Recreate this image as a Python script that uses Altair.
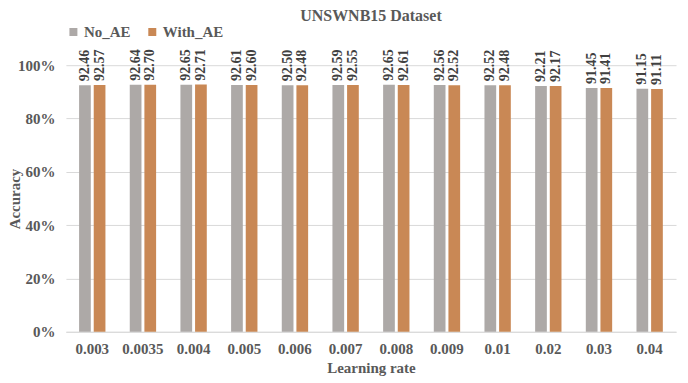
import altair as alt
import pandas as pd

rates = ["0.003", "0.0035", "0.004", "0.005", "0.006", "0.007", "0.008", "0.009", "0.01", "0.02", "0.03", "0.04"]
no_ae = [92.46, 92.64, 92.65, 92.61, 92.50, 92.59, 92.65, 92.56, 92.52, 92.21, 91.45, 91.15]
with_ae = [92.57, 92.70, 92.71, 92.60, 92.48, 92.55, 92.61, 92.52, 92.48, 92.17, 91.41, 91.11]
series = ["No_AE", "With_AE"]
colors = ["#ADA9A7", "#C98855"]

rows = []
for r, a, b in zip(rates, no_ae, with_ae):
    rows.append({"rate": r, "series": series[0], "acc": a / 100, "label": f"{a:.2f}"})
    rows.append({"rate": r, "series": series[1], "acc": b / 100, "label": f"{b:.2f}"})
df = pd.DataFrame(rows)

font = "Liberation Serif"
txt = "#595959"

x = alt.X("rate:N", sort=rates, title="Learning rate",
          scale=alt.Scale(paddingInner=0.48, paddingOuter=0.26),
          axis=alt.Axis(labelAngle=0, labelFont=font, labelFontSize=15, labelFontWeight="bold",
                        labelColor=txt, titleFont=font, titleFontSize=15, titleFontWeight="bold",
                        titleColor=txt, ticks=False, domainColor="#D9D9D9", labelPadding=10,
                        titlePadding=4))
xo = alt.XOffset("series:N", sort=series, scale=alt.Scale(paddingInner=0.2))

base = alt.Chart(df)
bars = base.mark_bar().encode(
    x=x, xOffset=xo,
    y=alt.Y("acc:Q", title="Accuracy", scale=alt.Scale(domain=[0, 1]),
            axis=alt.Axis(format="%", values=[0, 0.2, 0.4, 0.6, 0.8, 1.0], labelFont=font,
                          labelFontSize=15, labelFontWeight="bold", labelColor=txt,
                          titleFont=font, titleFontSize=15, titleFontWeight="bold", titleColor=txt,
                          ticks=False, domain=False, gridColor="#D9D9D9", labelPadding=11,
                          minExtent=43, maxExtent=43, titlePadding=0)),
    color=alt.Color("series:N", sort=series, scale=alt.Scale(domain=series, range=colors),
                    legend=alt.Legend(title=None, orient="none", legendX=0, legendY=-41,
                                      direction="horizontal", symbolType="square", symbolSize=64,
                                      labelFont=font, labelFontSize=15, labelFontWeight="bold",
                                      labelColor=txt, columnPadding=14, symbolStrokeWidth=0,
                                      labelOffset=3)),
)
labels = base.mark_text(angle=270, align="left", baseline="middle", dx=4, font=font,
                        fontSize=14, fontWeight="bold", color="#404040").encode(
    x=x, xOffset=xo, y="acc:Q", text="label:N")

chart = (bars + labels).properties(
    width=611, height=267,
    padding={"left": 0, "right": 4, "top": 0, "bottom": 0},
    title=alt.TitleParams("UNSWNB15 Dataset", font=font, fontSize=16, fontWeight="bold",
                          color=txt, offset=0),
).configure_view(stroke=None)

chart.save("out.html", embed_options={"renderer": "svg", "actions": False})
